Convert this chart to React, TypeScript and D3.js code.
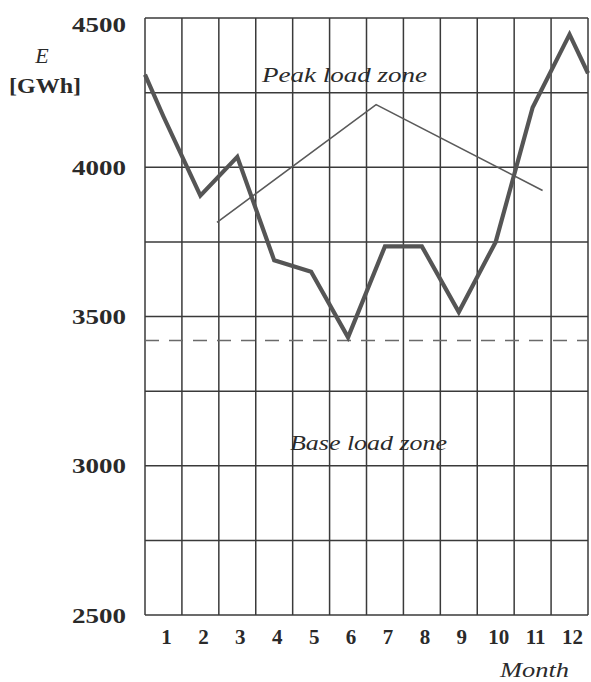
import React from "react";
import * as d3 from "d3";

// monthly energy consumption
const months = [1, 2, 3, 4, 5, 6, 7, 8, 9, 10, 11, 12];
const energy = [4170, 3905, 4035, 3688, 3650, 3430, 3735, 3735, 3515, 3750, 4200, 4445];
// values where the curve meets the left / right frame
const edgeStart = 4310;
const edgeEnd = 4315;

// thin "peak load" envelope line
const peakX = [2.45, 6.76, 11.27];
const peakY = [3815, 4210, 3922];

const baseLoad = 3420;
const yTicks = [2500, 3000, 3500, 4000, 4500];
const yGrid = [2500, 2750, 3000, 3250, 3500, 3750, 4000, 4250, 4500];

const serif = "Liberation Serif, Times New Roman, Times, serif";

function App() {
    const x = d3.scaleLinear().domain([0.5, 12.5]).range([145, 588]);
    const y = d3.scaleLinear().domain([2500, 4500]).range([615, 18]);

    const pts: [number, number][] = [[0.5, edgeStart]];
    months.forEach((m, i) => pts.push([m, energy[i]]));
    pts.push([12.5, edgeEnd]);

    const line = d3.line<[number, number]>()
        .x(d => x(d[0]))
        .y(d => y(d[1]));

    const peak: [number, number][] = peakX.map((m, i) => [m, peakY[i]]);
    const xGrid = d3.range(0.5, 13, 1);

    return (
        <svg width={591} height={682} style={{ position: "absolute", left: 0, top: 0, background: "#fff" }}>
            <g stroke="#3a3a3a" strokeWidth={1.5}>
                {yGrid.map(v => (
                    <line key={"h" + v} x1={x(0.5)} x2={x(12.5)} y1={y(v)} y2={y(v)} />
                ))}
                {xGrid.map(m => (
                    <line key={"v" + m} x1={x(m)} x2={x(m)} y1={y(2500)} y2={y(4500)} />
                ))}
            </g>
            <line x1={x(0.5)} x2={x(12.5)} y1={y(baseLoad)} y2={y(baseLoad)}
                stroke="#6a6a6a" strokeWidth={1.5} strokeDasharray="14,10" />
            <path d={line(peak) || ""} fill="none" stroke="#5a5a5a" strokeWidth={1.6} />
            <path d={line(pts) || ""} fill="none" stroke="#555" strokeWidth={4.2}
                strokeLinejoin="miter" />

            <g style={{ fontFamily: serif }} fontWeight="bold" fontSize={22} fill="#2a2a2a">
                {yTicks.map(v => (
                    <text key={"yt" + v} x={126} y={y(v) + (v === 4500 ? 6 : 0)} textAnchor="end"
                        dominantBaseline="central" textLength={54} lengthAdjust="spacingAndGlyphs">{v}</text>
                ))}
                {months.map(m => (
                    <text key={"xt" + m} x={x(m) + 3} y={644} textAnchor="middle"
                        fontSize={21}>{m}</text>
                ))}
                <text x={45} y={93} textAnchor="middle" textLength={72}
                    lengthAdjust="spacingAndGlyphs">[GWh]</text>
            </g>

            <g style={{ fontFamily: serif }} fontStyle="italic" fill="#2a2a2a" fontSize={22}>
                <text x={42} y={63} textAnchor="middle">E</text>
                <text x={262} y={82} textLength={165} lengthAdjust="spacingAndGlyphs">Peak load zone</text>
                <text x={290} y={450} textLength={157} lengthAdjust="spacingAndGlyphs">Base load zone</text>
                <text x={500} y={677} textLength={69} lengthAdjust="spacingAndGlyphs">Month</text>
            </g>
        </svg>
    );
}

export default App;
